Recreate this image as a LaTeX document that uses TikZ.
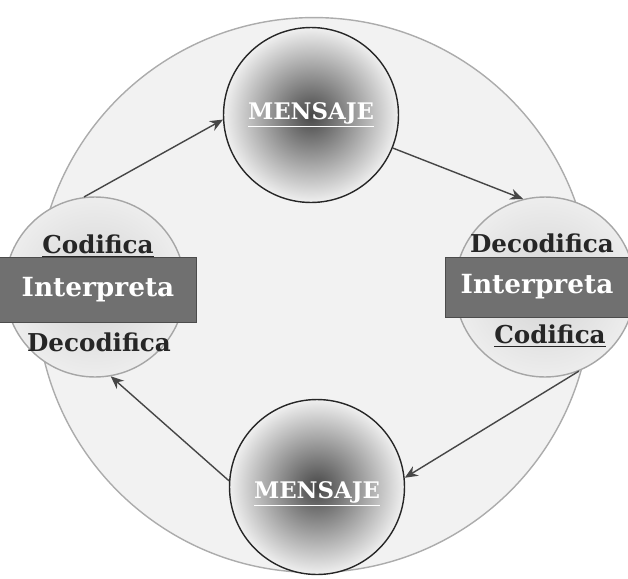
\documentclass[tikz,border=0pt]{standalone}
\usepackage{fontspec}
\setmainfont{DejaVu Serif}
\usepackage{tikz}
\usetikzlibrary{arrows.meta, shadings}

\begin{document}
\begin{tikzpicture}[x=0.02cm, y=-0.02cm,
    every node/.style={font=\bfseries, align=center},
    ring/.style={circle, draw=gray!65, thick, fill=gray!10, minimum size=11.1cm},
    msg/.style={circle, draw=black!85, thick, minimum size=3.5cm,
                shading=radial, inner color=black!72, outer color=gray!12},
    agent/.style={circle, draw=gray!70, thick, minimum size=3.6cm,
                  shading=radial, inner color=gray!35, outer color=gray!14},
    band/.style={rectangle, draw=black!70, fill=gray!60!black!80, inner sep=0pt},
    word/.style={font=\fontsize{14}{16}\selectfont\bfseries, text=black!85},
    title/.style={font=\fontsize{15}{17}\selectfont\bfseries, text=white},
    flow/.style={-{Stealth[length=2.6mm, width=2.2mm]}, thick, draw=gray!55!black}
]
\useasboundingbox (0,0) rectangle (628,578);

% --- outer ring ---
\node[ring] (ring) at (314,295) {};

% --- circles ---
\node[msg]   (sup) at (311,115) {};
\node[msg]   (inf) at (317,487) {};
\node[agent] (izq) at (95,287) {};
\node[agent] (der) at (545,287) {};

% --- cycle ---
\draw[flow] (izq.97)  -- (sup.183);
\draw[flow] (sup.-22) -- (der.104);
\draw[flow] (der.-68) -- (inf.6);
\draw[flow] (inf.176) -- (izq.-80);

% --- message labels ---
\node[title, font=\fontsize{13}{15}\selectfont\bfseries] (tsup) at (sup.center) {\underline{MENSAJE}};
\node[title, font=\fontsize{13}{15}\selectfont\bfseries] (tinf) at ([yshift=-4]inf.center) {\underline{MENSAJE}};

% --- left agent ---
\node[band, minimum width=3.94cm, minimum height=1.3cm] (bizq) at (98,290) {};
\node[title] (iizq) at (bizq.center) {Interpreta};
\node[word] (cizq) at (98,246) {\underline{Codifica}};
\node[word] (dizq) at (99,342) {Decodifica};

% --- right agent ---
\node[band, minimum width=3.66cm, minimum height=1.2cm] (bder) at (537,287) {};
\node[title] (ider) at (bder.center) {Interpreta};
\node[word] (dder) at (542,243) {Decodifica};
\node[word] (cder) at (550,336) {\underline{Codifica}};

\end{tikzpicture}
\end{document}
